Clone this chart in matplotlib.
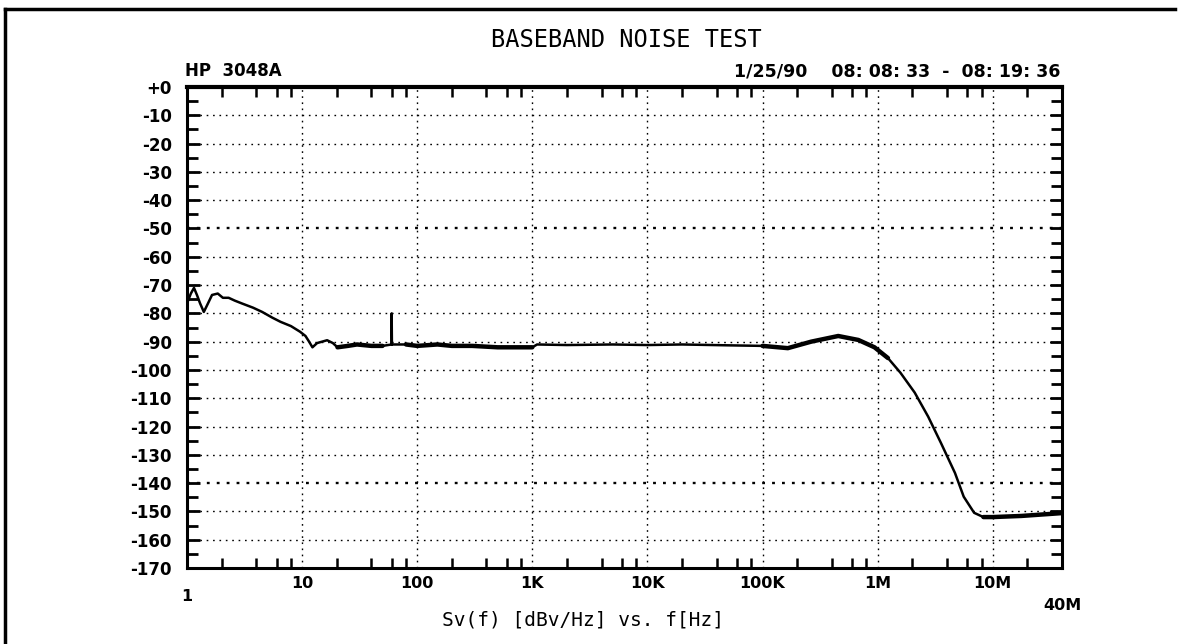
# baseband_noise.py

import numpy as np
import matplotlib.pyplot as plt
from matplotlib.ticker import FixedLocator, NullFormatter

# Measured baseband noise spectrum, Sv(f) in dBv/Hz
freq_hz = [1.0, 1.08, 1.15, 1.22, 1.3, 1.4, 1.5, 1.65, 1.85, 2.05, 2.3, 2.6,
           3.0, 3.75, 4.5, 5.5, 6.5, 8.0, 9.6, 10.7, 11.5, 12.3, 13.5, 16.5,
           18.5, 20.3, 25, 30, 40, 50, 60, 60, 60.3, 80, 100, 150, 200, 300,
           500, 1000, 1100, 2e3, 5e3, 1e4, 2e4, 5e4, 1e5, 1.66e5, 2.65e5,
           4.55e5, 6.8e5, 9.4e5, 1.23e6, 1.58e6, 2.1e6, 2.75e6, 3.55e6,
           4.7e6, 5.6e6, 6.9e6, 8.3e6, 1e7, 1.78e7, 4e7]
sv_dbv = [-76.5, -73, -71, -73.5, -76.5, -79.5, -77, -73.5, -73, -74.5, -74.5,
          -75.5, -76.5, -78, -79.5, -81.5, -83, -84.5, -86.5, -88, -90, -92,
          -90.5, -89.5, -90.5, -92, -91.5, -91, -91.5, -91.5, -91, -80, -91,
          -91, -91.5, -91, -91.5, -91.5, -92, -92, -91, -91.2, -91, -91.2,
          -91, -91.3, -91.5, -92.3, -90, -88, -89.4, -92, -95.8, -101, -108,
          -116.5, -125.8, -136.4, -144.8, -150.5, -152, -152, -151.6, -150.6]

y_ticks = list(range(0, -171, -10))
y_labels = ["+0"] + [str(v) for v in y_ticks[1:]]
x_decades = [10, 100, 1e3, 1e4, 1e5, 1e6, 1e7]
x_labels = ["10", "100", "1K", "10K", "100K", "1M", "10M"]

mono = "DejaVu Sans Mono"
fig = plt.figure(figsize=(11.94, 6.44), dpi=100)

# outer frame (top and left edges)
fig.add_artist(plt.Line2D([5 / 1194, 1175 / 1194], [1 - 9 / 644] * 2,
                          color="black", lw=2.5))
fig.add_artist(plt.Line2D([5 / 1194] * 2, [0, 1 - 9 / 644],
                          color="black", lw=2.5))

ax = fig.add_axes([187 / 1194, 76 / 644, 875 / 1194, 481 / 644])
ax.set_xscale("log")
ax.set_xlim(1, 4e7)
ax.set_ylim(-170, 0)

f = np.array(freq_hz)
s = np.array(sv_dbv)
ax.plot(f, s, color="black", lw=1.8, solid_joinstyle="round")
# noisier stretches of the trace look heavier
for lo, hi in [(20, 55), (61, 1000), (1e5, 1.3e6), (8e6, 4e7)]:
    m = (f >= lo) & (f <= hi)
    ax.plot(f[m], s[m], color="black", lw=3.2, solid_capstyle="round")

# dotted grid
for x in x_decades:
    ax.axvline(x, color="black", lw=1.0, ls=(0, (1.2, 3.2)))
for y in y_ticks[1:]:
    heavy = y in (-50, -140)
    ax.axhline(y, color="black", lw=1.7 if heavy else 1.0,
               ls=(0, (1.2, 3.0 if heavy else 3.4)))

for side in ax.spines.values():
    side.set_linewidth(2.2)
ax.spines["top"].set_linewidth(3.0)

# y ticks on both sides, pointing in
ax.set_yticks(y_ticks)
ax.set_yticklabels(y_labels, fontweight="bold", fontsize=12)
ax.yaxis.set_minor_locator(FixedLocator(np.arange(-165, 0, 10)))
ax.tick_params(axis="y", which="major", direction="in", length=9, width=2,
               left=True, right=True, pad=11)
ax.tick_params(axis="y", which="minor", direction="in", length=8, width=2,
               left=True, right=True)

# x minor ticks at 2,4,6,8 per decade, labels drawn by hand
minor_x = [m * 10.0 ** d for d in range(0, 8) for m in (2, 4, 6, 8)]
minor_x = [v for v in minor_x if v < 4e7]
ax.xaxis.set_major_locator(FixedLocator([]))
ax.xaxis.set_minor_locator(FixedLocator(minor_x))
ax.xaxis.set_minor_formatter(NullFormatter())
ax.tick_params(axis="x", which="minor", direction="in", length=7, width=1.8,
               top=True, bottom=True)

lab_kw = dict(fontweight="bold", fontsize=11.5, ha="center", va="center",
              transform=ax.get_xaxis_transform())
for x, t in zip(x_decades, x_labels):
    ax.text(x, -0.033, t, **lab_kw)
ax.text(1, -0.060, "1", **lab_kw)
ax.text(4e7, -0.077, "40M", **lab_kw)

fig.text(626 / 1194, 1 - 40 / 644, "BASEBAND NOISE TEST", family=mono,
         fontsize=17, ha="center", va="center")
fig.text(185 / 1194, 1 - 71 / 644, "HP  3048A", fontweight="bold",
         fontsize=12, ha="left", va="center")
fig.text(1060 / 1194, 1 - 71 / 644, "1/25/90    08: 08: 33  -  08: 19: 36",
         fontweight="bold", fontsize=12.5, ha="right", va="center")
fig.text(583 / 1194, 1 - 620 / 644, "Sv(f) [dBv/Hz] vs. f[Hz]", family=mono,
         fontsize=14, ha="center", va="center")

fig.savefig("out.png", dpi=100)
